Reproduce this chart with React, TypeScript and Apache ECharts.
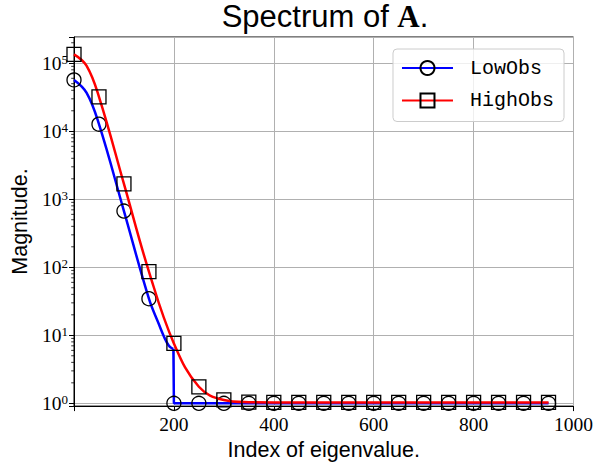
import React, { useEffect, useRef } from "react";
import * as echarts from "echarts";

// Marker indices (every 50)
const markerIdx = [0, 50, 100, 150, 200, 250, 300, 350, 400, 450, 500, 550, 600, 650, 700, 750, 800, 850, 900, 950];
// LowObs values at the marker indices
const lowObsMarkers = [56900, 12700, 670, 34.5, 1, 1, 1, 1, 1, 1, 1, 1, 1, 1, 1, 1, 1, 1, 1, 1];
// LowObs extra curve points (no marker)
const lowObsExtraIdx = [25, 170, 180, 190, 197, 199];
const lowObsExtraVals = [37000, 14.5, 9.6, 7.0, 6.4, 6.3];
// HighObs values at the marker indices
const highObsMarkers = [135000, 32000, 1680, 86.6, 7.6, 1.75, 1.12, 1.04, 1.03, 1.03, 1.03, 1.03, 1.03, 1.03, 1.03, 1.03, 1.03, 1.03, 1.03, 1.03];
// HighObs extra curve points (no marker)
const highObsExtraIdx = [25];
const highObsExtraVals = [92000];
// Minor ticks on the log axis
const minorTickVals = [
  2, 3, 4, 5, 6, 7, 8, 9,
  20, 30, 40, 50, 60, 70, 80, 90,
  200, 300, 400, 500, 600, 700, 800, 900,
  2000, 3000, 4000, 5000, 6000, 7000, 8000, 9000,
  20000, 30000, 40000, 50000, 60000, 70000, 80000, 90000,
  200000,
];
const seriesNames = ["LowObs", "HighObs"];

const X_MIN = 0;
const X_MAX = 1000;
const X_INTERVAL = 200;
const Y_MIN = 0.91;
const Y_MAX = 243000;

function merge(idx: number[], vals: number[], exIdx: number[], exVals: number[], maxX: number) {
  const pts: any[] = [];
  idx.forEach((x, i) => {
    if (x <= maxX) pts.push({ x, item: [x, vals[i]] });
  });
  exIdx.forEach((x, i) => pts.push({ x, item: { value: [x, exVals[i]], symbol: "none" } }));
  pts.sort((a, b) => a.x - b.x);
  return pts.map((p) => p.item);
}

export default function App() {
  const ref = useRef<HTMLDivElement>(null);

  useEffect(() => {
    document.body.style.margin = "0";
    if (!ref.current) return;
    const chart = echarts.init(ref.current, null, { renderer: "svg" });

    const lowA = merge(markerIdx, lowObsMarkers, lowObsExtraIdx, lowObsExtraVals, 150);
    const lastIdx = lowObsExtraIdx[lowObsExtraIdx.length - 1];
    const lastVal = lowObsExtraVals[lowObsExtraVals.length - 1];
    const lowB: any[] = [{ value: [lastIdx, lastVal], symbol: "none" }];
    markerIdx.forEach((x, i) => {
      if (x >= 200) lowB.push([x, lowObsMarkers[i]]);
    });

    const high = merge(markerIdx, highObsMarkers, highObsExtraIdx, highObsExtraVals, Infinity);

    const markerStyle = { color: "transparent", borderColor: "#000", borderWidth: 1.3 };

    chart.setOption({
      animation: false,
      backgroundColor: "#fff",
      title: {
        text: "{a|Spectrum of }{b|A}{a|.}",
        left: 325,
        textAlign: "center",
        top: -2,
        padding: 0,
        textStyle: {
          fontWeight: "normal",
          rich: {
            a: { fontFamily: "Liberation Sans", fontWeight: "normal", fontSize: 31, color: "#000", lineHeight: 36 },
            b: { fontFamily: "Liberation Serif", fontWeight: "bold", fontSize: 31, color: "#000", lineHeight: 36 },
          },
        },
      },
      grid: {
        left: 74,
        right: 19,
        top: 37,
        bottom: 56,
        show: true,
        borderColor: "#000",
        borderWidth: 1,
        backgroundColor: "transparent",
      },
      legend: {
        data: seriesNames,
        orient: "vertical",
        right: 32,
        top: 49,
        backgroundColor: "rgba(255,255,255,0.8)",
        borderColor: "#cccccc",
        borderWidth: 1,
        borderRadius: 4,
        padding: [9, 10, 11, 8],
        itemWidth: 51,
        itemHeight: 17.5,
        itemGap: 12.5,
        textStyle: { fontFamily: "Liberation Mono", fontSize: 20, color: "#000", padding: [0, 0, 0, 12] },
      },
      xAxis: {
        type: "value",
        min: X_MIN,
        max: X_MAX,
        interval: X_INTERVAL,
        name: "Index of eigenvalue.",
        nameLocation: "middle",
        nameGap: 32,
        nameTextStyle: { fontFamily: "Liberation Sans", fontSize: 21.5, color: "#000" },
        axisLine: { show: true, lineStyle: { color: "#000", width: 1 } },
        axisTick: { show: true, length: 5, lineStyle: { color: "#000", width: 1 } },
        axisLabel: {
          margin: 8,
          fontFamily: "Liberation Serif",
          fontSize: 19.5,
          color: "#000",
          formatter: (v: number) => (v === 0 ? "" : String(v)),
        },
        splitLine: { show: true, lineStyle: { color: "#b0b0b0", width: 1 } },
      },
      yAxis: {
        type: "log",
        logBase: 10,
        min: Y_MIN,
        max: Y_MAX,
        name: "Magnitude.",
        nameLocation: "middle",
        nameRotate: 90,
        nameGap: 39,
        nameTextStyle: { fontFamily: "Liberation Sans", fontSize: 21.5, color: "#000" },
        axisLine: { show: true, lineStyle: { color: "#000", width: 1 } },
        axisTick: { show: true, length: 5, lineStyle: { color: "#000", width: 1 } },
        axisLabel: {
          margin: 6,
          color: "#000",
          formatter: (v: number) => {
            const e = Math.log10(v);
            const r = Math.round(e);
            if (Math.abs(e - r) > 1e-6) return "";
            return `{b|10}{s|${r}}`;
          },
          rich: {
            b: { fontFamily: "Liberation Serif", fontSize: 19.5, color: "#000", lineHeight: 20 },
            s: { fontFamily: "Liberation Serif", fontSize: 13, color: "#000", lineHeight: 13, verticalAlign: "top" },
          },
        },
        splitLine: { show: true, lineStyle: { color: "#b0b0b0", width: 1 } },
      },
      series: [
        {
          name: "LowObs",
          type: "line",
          data: lowA,
          smooth: 0.4,
          symbol: "circle",
          symbolSize: 14,
          showAllSymbol: true,
          lineStyle: { color: "#0000ff", width: 2.5 },
          itemStyle: markerStyle,
          z: 2,
        },
        {
          name: "LowObs",
          type: "line",
          data: lowB,
          smooth: false,
          symbol: "circle",
          symbolSize: 14,
          showAllSymbol: true,
          lineStyle: { color: "#0000ff", width: 2.5 },
          itemStyle: markerStyle,
          z: 2,
        },
        {
          name: "HighObs",
          type: "line",
          data: high,
          smooth: 0.4,
          symbol: "rect",
          symbolSize: 14,
          showAllSymbol: true,
          lineStyle: { color: "#ff0000", width: 2.5 },
          itemStyle: markerStyle,
          z: 3,
        },
        {
          name: "minor",
          type: "custom",
          clip: false,
          silent: true,
          data: minorTickVals.map((v) => [X_MIN, v]),
          renderItem: (params: any, api: any) => {
            const p = api.coord([api.value(0), api.value(1)]);
            return {
              type: "line",
              shape: { x1: p[0] - 2.8, y1: p[1], x2: p[0], y2: p[1] },
              style: { stroke: "#000", lineWidth: 0.8 },
            };
          },
          z: 1,
        },
      ],
    });

    return () => chart.dispose();
  }, []);

  return <div ref={ref} style={{ position: "fixed", left: 0, top: 0, width: 596, height: 466 }} />;
}
